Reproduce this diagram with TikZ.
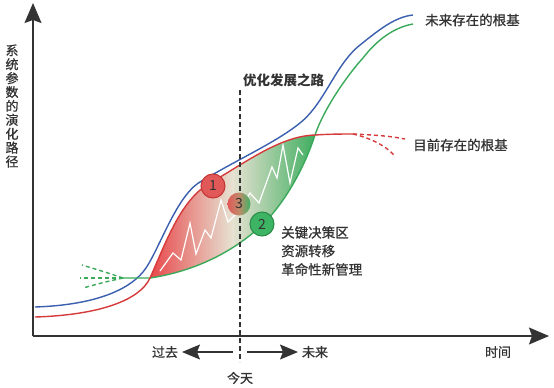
\documentclass[tikz,border=0pt]{standalone}
\usepackage{fontspec}
\setmainfont{Noto Sans CJK SC}
\newfontfamily\labelfont[FakeBold=0.8]{Noto Sans CJK SC}
\usetikzlibrary{arrows.meta}
\definecolor{cblue}{HTML}{3A5FAE}
\definecolor{cred}{HTML}{D63A3A}
\definecolor{cgreen}{HTML}{3AAA5A}
\definecolor{cgray}{HTML}{333333}
\definecolor{lensred}{HTML}{E8474A}
\definecolor{lenspale}{HTML}{E6E2D2}
\definecolor{lensgreen}{HTML}{40AE60}
\definecolor{c1fill}{HTML}{E05858}
\definecolor{c1draw}{HTML}{C43434}
\definecolor{c2fill}{HTML}{3DB364}
\definecolor{c2draw}{HTML}{2A8A48}
\definecolor{c3mid}{HTML}{C08A6A}
\begin{document}
\begin{tikzpicture}[x=1pt,y=-1pt,
  font=\labelfont\fontsize{13.5}{15}\selectfont,
  axisline/.style={draw=cgray,line width=1.2pt,-{Stealth[length=20pt,width=17pt,inset=3pt]}},
  curve/.style={line width=1.4pt},
  dashcurve/.style={line width=1.4pt,dash pattern=on 4pt off 3pt},
  lbl/.style={text=cgray,inner sep=0pt},
  badge/.style={circle,minimum size=24pt,inner sep=0pt,line width=1pt,text=cgray,font=\fontsize{14}{15}\selectfont},
  timearrow/.style={draw=cgray,line width=1.2pt,-{Stealth[length=18pt,width=15pt,inset=3pt]}}
]
\useasboundingbox[fill=white] (0,0) rectangle (554,388);

% lens fill
\shade[left color=lensred,right color=lensgreen,middle color=lenspale]
  (150,278) .. controls (165,245) and (180,200) .. (210,183)
  .. controls (245,163) and (280,136) .. (315,135)
  .. controls (303,172) and (282,206) .. (262,225)
  .. controls (230,255) and (190,272) .. (150,278) -- cycle;

% white zigzag
\draw[white,line width=1.2pt,line join=miter]
  (160,271) -- (173,253) -- (181,260) -- (190,223) -- (196,254) -- (205,230)
  -- (211,238) -- (221,200) -- (228,222) -- (238,212) -- (250,193) -- (259,203)
  -- (272,167) -- (277,178) -- (283,145) -- (290,183) -- (298,148) -- (303,155);

% axes
\coordinate (o) at (33,336);
\coordinate (ytop) at (33,3);
\coordinate (xend) at (549,336);
\draw[axisline] (o) -- (ytop);
\draw[axisline] (o) -- (xend);

% blue curve (future foundation)
\draw[cblue,curve] (35,307) .. controls (95,305) and (128,290) .. (143,272)
  .. controls (158,254) and (175,197) .. (200,182)
  .. controls (240,158) and (275,143) .. (300,123)
  .. controls (325,103) and (335,65) .. (360,45)
  .. controls (380,29) and (395,17) .. (413,15);

% green curve
\draw[cgreen,curve] (123,278) -- (150,278)
  .. controls (190,272) and (230,255) .. (262,225)
  .. controls (282,206) and (303,172) .. (315,135)
  .. controls (325,106) and (350,72) .. (363,58)
  .. controls (373,45) and (390,28) .. (413,24);
\draw[cgreen,dashcurve] (123,278) -- (80,278);
\draw[cgreen,dashcurve] (123,278) .. controls (105,272) .. (82,265);
\draw[cgreen,dashcurve] (123,278) .. controls (105,282) .. (83,288);

% red curve
\draw[cred,curve] (35,317) .. controls (100,315) and (140,300) .. (150,278)
  .. controls (165,245) and (180,200) .. (210,183)
  .. controls (245,163) and (280,136) .. (315,135)
  .. controls (330,134) and (345,134) .. (353,134);
\draw[cred,dashcurve] (353,134) .. controls (375,135) and (390,136) .. (405,139);
\draw[cred,dashcurve] (353,134) .. controls (370,138) and (385,145) .. (395,156);

% today line
\coordinate (ttop) at (240,90);
\coordinate (tbot) at (240,362);
\draw[cgray,line width=1.2pt,dash pattern=on 5pt off 3pt] (ttop) -- (tbot);

% badges
\node[badge,fill=c1fill,draw=c1draw] (b1) at (213,186) {1};
\node[badge,fill=c2fill,draw=c2draw] (b2) at (262,224) {2};
\node[badge,minimum size=23pt,left color=c1fill,right color=c2fill,middle color=c3mid] (b3) at (239,204) {3};

% labels
\node[lbl,align=center,font=\labelfont\fontsize{13}{13.9}\selectfont] (ylab) at (12,106)
  {系\\统\\参\\数\\的\\演\\化\\路\\径};
\node[lbl,anchor=west] (future) at (425,20) {未来存在的根基};
\node[lbl,anchor=west] (present) at (413,145) {目前存在的根基};
\node[lbl,anchor=west,font=\fontsize{13.5}{15}\bfseries] (path) at (243,80) {优化发展之路};
\node[lbl,anchor=north west,align=left,font=\labelfont\fontsize{13.5}{18.5}\selectfont] (zone) at (281,226)
  {关键决策区\\资源转移\\革命性新管理};

\node[lbl,font=\labelfont\fontsize{13}{14}\selectfont] (past) at (165,352) {过去};
\node[lbl,font=\labelfont\fontsize{13}{14}\selectfont] (fut) at (315,352) {未来};
\node[lbl,font=\labelfont\fontsize{13}{14}\selectfont] (today) at (240,378) {今天};
\node[lbl,font=\labelfont\fontsize{13}{14}\selectfont] (time) at (498,352) {时间};
\coordinate (la) at (233,352);
\coordinate (lt) at (182,352);
\coordinate (ra) at (247,352);
\coordinate (rt) at (298,352);
\draw[timearrow] (la) -- (lt);
\draw[timearrow] (ra) -- (rt);
\end{tikzpicture}
\end{document}
